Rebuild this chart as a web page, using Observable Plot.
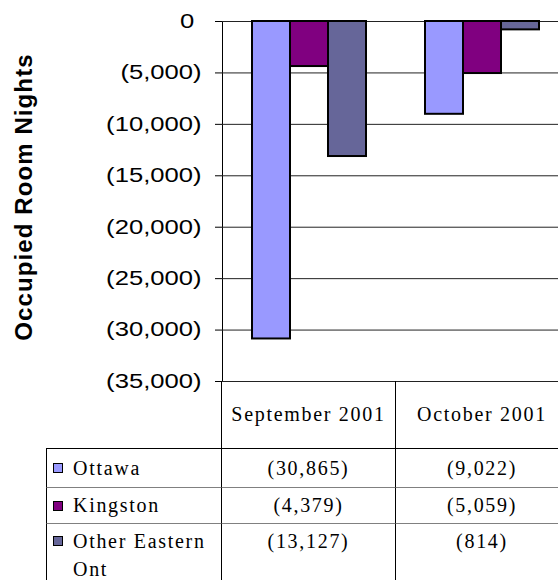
<!DOCTYPE html>
<html><head><meta charset="utf-8">
<script src="https://cdn.jsdelivr.net/npm/d3@7"></script>
<script src="https://cdn.jsdelivr.net/npm/@observablehq/plot@0.6"></script>
<style>
html,body{margin:0;padding:0;overflow:hidden;background:#fff;}
#wrap{position:relative;width:558px;height:580px;overflow:hidden;}
#chart{position:absolute;left:0;top:0;width:568px;}
#chart svg{max-width:none !important;}
#title{position:absolute;left:24px;top:197px;transform:translate(-50%,-50%) rotate(-90deg);font:bold 24px "Liberation Sans",Arial,sans-serif;letter-spacing:1.1px;white-space:nowrap;color:#000;}
.cell{position:absolute;box-sizing:border-box;font:20px "Liberation Serif","Times New Roman",serif;letter-spacing:1.7px;color:#000;}
.mid{display:flex;align-items:center;justify-content:center;}
.lab{display:flex;align-items:center;padding-left:6px;}
.sw{width:10px;height:10px;box-sizing:border-box;border:1.5px solid #000;margin-right:10px;flex:none;}
</style></head>
<body><div id="wrap"><div id="chart"></div><div id="title">Occupied Room Nights</div><div id="table"></div></div>
<script>
const months = ["September 2001", "October 2001"];
const series = ["Ottawa", "Kingston", "Other Eastern Ont"];
const ottawa = [-30865, -9022];
const kingston = [-4379, -5059];
const otherEastern = [-13127, -814];
const colors = ["#9999FF", "#800080", "#666699"];
const yTicks = [0, -5000, -10000, -15000, -20000, -25000, -30000, -35000];

const values = [ottawa, kingston, otherEastern];
const data = series.flatMap((s, i) => months.map((m, j) => ({month: m, series: s, value: values[i][j]})));
const fmt = d => d === 0 ? "0" : d < 0 ? `(${d3.format(",")(-d)})` : d3.format(",")(d);
// axis labels: zero keeps room for the closing parenthesis, as in the original
const axisFmt = d => d === 0 ? "0\u2008" : fmt(d);

const chart = Plot.plot({
  width: 568, height: 382,
  marginLeft: 221, marginRight: 0, marginTop: 21, marginBottom: 1,
  style: {fontFamily: '"Liberation Sans", Arial, sans-serif', fontSize: "20px", color: "#000", background: "transparent", overflow: "visible", maxWidth: "none"},
  fx: {domain: months, axis: null, paddingInner: 0, paddingOuter: 0, label: null},
  x: {domain: series, axis: null, paddingInner: 0, paddingOuter: 0.735},
  y: {domain: [-35000, 0], ticks: yTicks, tickFormat: axisFmt, tickSize: 7, tickPadding: 14, line: true, label: null},
  color: {domain: series, range: colors},
  marks: [
    Plot.ruleY(yTicks, {stroke: "#222", strokeWidth: 1}),
    Plot.barY(data, {fx: "month", x: "series", y: "value", fill: "series", stroke: "#000", strokeWidth: 2})
  ]
});
document.getElementById("chart").appendChild(chart);

// stretch tick labels horizontally like the original rendering
let labels = chart.querySelectorAll('g[aria-label="y-axis tick label"] text');
if (!labels.length) labels = chart.querySelectorAll("text");
labels.forEach(t => {
  t.setAttribute("xml:space", "preserve");
  t.style.whiteSpace = "pre";
  const len = t.getComputedTextLength();
  t.setAttribute("textLength", (len * 1.28).toFixed(1));
  t.setAttribute("lengthAdjust", "spacingAndGlyphs");
});

// data table below the chart
const cols = [{left: 46, width: 175}, {left: 221, width: 174}, {left: 395, width: 173}];
const rows = [{top: 381, height: 67}, {top: 448, height: 39}, {top: 487, height: 36}, {top: 523, height: 57}];
const table = document.getElementById("table");
function cell(r, c, cls, css) {
  const d = document.createElement("div");
  d.className = "cell " + cls;
  d.style.left = cols[c].left + "px";
  d.style.width = cols[c].width + "px";
  d.style.top = rows[r].top + "px";
  d.style.height = rows[r].height + "px";
  Object.assign(d.style, css || {});
  table.appendChild(d);
  return d;
}
months.forEach((m, j) => {
  const d = cell(0, j + 1, "mid", {borderLeft: "1px solid #000"});
  d.textContent = m;
});
series.forEach((s, i) => {
  const r = i + 1;
  const last = i === series.length - 1;
  const top = i === 0 ? "1px solid #000" : "1px solid #808080";
  const lab = cell(r, 0, "lab", {borderLeft: "1px solid #000", borderTop: top});
  if (last) { lab.style.alignItems = "flex-start"; lab.style.lineHeight = "28px"; lab.style.paddingTop = "3px"; }
  const sw = document.createElement("div");
  sw.className = "sw";
  sw.style.background = colors[i];
  if (last) sw.style.marginTop = "9px";
  const tx = document.createElement("span");
  tx.textContent = s;
  lab.appendChild(sw); lab.appendChild(tx);
  months.forEach((m, j) => {
    const d = cell(r, j + 1, "mid", {borderLeft: "1px solid #000", borderTop: top});
    if (last) { d.style.alignItems = "flex-start"; d.style.lineHeight = "28px"; d.style.paddingTop = "3px"; }
    d.textContent = fmt(values[i][j]);
  });
});
</script>
</body></html>
